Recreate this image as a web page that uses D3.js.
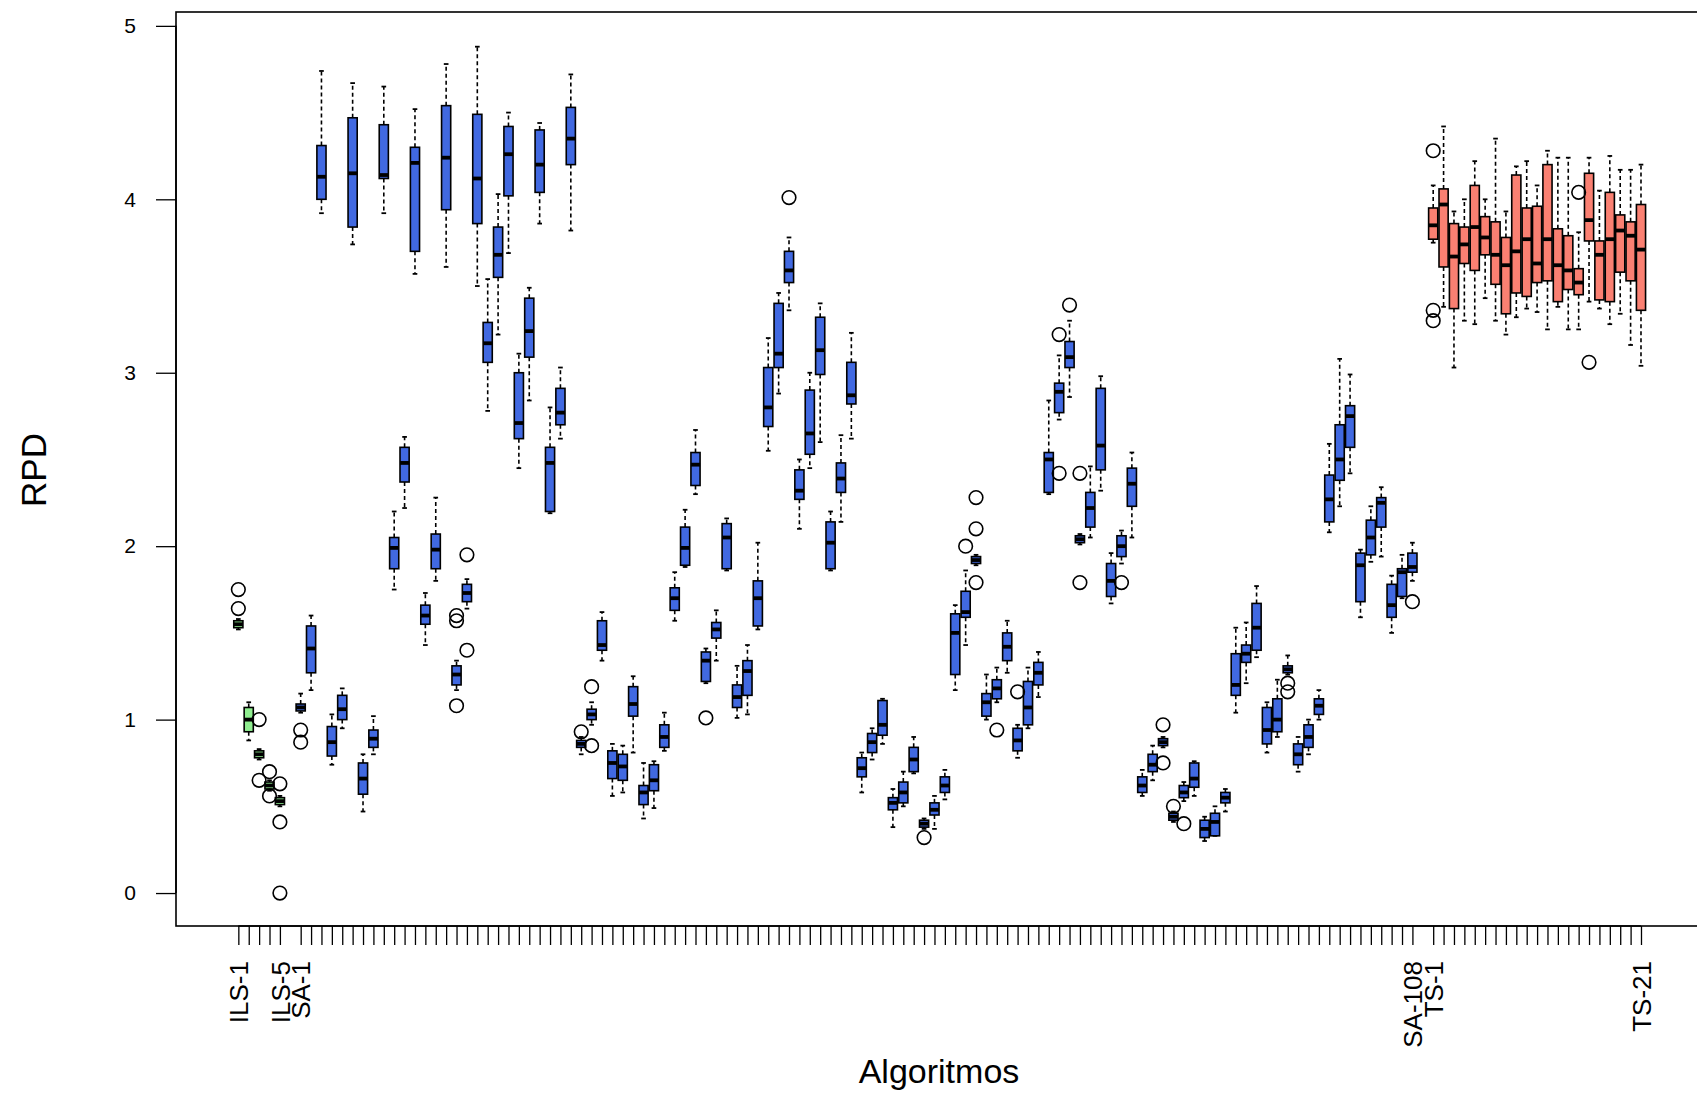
<!DOCTYPE html>
<html><head><meta charset="utf-8">
<script src="https://cdn.jsdelivr.net/npm/d3@7"></script>
<style>body{margin:0;background:#fff} svg{display:block}</style>
</head><body>
<svg id="chart" width="1697" height="1094"></svg>
<script>
// ---- data ----
const grupos = ["ILS", "SA", "TS"];
const tamanosGrupo = [5, 108, 21];
const algoritmos = grupos.flatMap((g, gi) => d3.range(1, tamanosGrupo[gi] + 1).map(i => g + "-" + i));

const bigoteInf = [
  1.52, 0.88, 0.77, 0.59, 0.50,
  1.04, 1.17, 3.92, 0.74, 0.95, 3.74, 0.47, 0.80, 3.92, 1.75,
  2.22, 3.57, 1.43, 1.80, 3.61, 1.17, 1.64, 3.50, 2.78, 3.22,
  3.69, 2.45, 2.84, 3.86, 2.19, 2.62, 3.82, 0.80, 0.97, 1.34,
  0.56, 0.58, 0.81, 0.43, 0.49, 0.82, 1.57, 1.88, 2.30, 1.21,
  1.34, 1.86, 1.01, 1.03, 1.52, 2.55, 2.88, 3.36, 2.10, 2.45,
  2.60, 1.86, 2.14, 2.62, 0.58, 0.77, 0.86, 0.38, 0.50, 0.69,
  0.37, 0.37, 0.54, 1.17, 1.43, 1.89, 1.00, 1.10, 1.27, 0.78,
  0.95, 1.13, 2.30, 2.73, 2.86, 2.01, 2.05, 2.32, 1.67, 1.90,
  2.05, 0.56, 0.65, 0.84, 0.41, 0.53, 0.56, 0.30, 0.33, 0.47,
  1.04, 1.21, 1.36, 0.81, 0.90, 1.26, 0.70, 0.80, 1.00, 2.08,
  2.23, 2.42, 1.59, 1.91, 1.94, 1.50, 1.70, 1.80,
  3.75, 3.38, 3.03, 3.30, 3.28, 3.43, 3.30, 3.22, 3.32, 3.37, 3.35,
  3.25, 3.38, 3.25, 3.25, 3.41, 3.37, 3.28, 3.34, 3.16, 3.04
];
const cuartil1 = [
  1.53, 0.93, 0.78, 0.60, 0.51,
  1.05, 1.27, 4.00, 0.79, 1.00, 3.84, 0.57, 0.84, 4.12, 1.87,
  2.37, 3.70, 1.55, 1.87, 3.94, 1.20, 1.68, 3.86, 3.06, 3.55,
  4.02, 2.62, 3.09, 4.04, 2.20, 2.70, 4.20, 0.84, 1.00, 1.40,
  0.66, 0.65, 1.02, 0.51, 0.59, 0.84, 1.63, 1.89, 2.35, 1.22,
  1.47, 1.87, 1.07, 1.14, 1.54, 2.69, 3.03, 3.52, 2.27, 2.53,
  2.99, 1.87, 2.31, 2.82, 0.67, 0.81, 0.91, 0.48, 0.52, 0.70,
  0.38, 0.45, 0.58, 1.26, 1.59, 1.90, 1.02, 1.12, 1.34, 0.82,
  0.97, 1.20, 2.31, 2.77, 3.03, 2.02, 2.11, 2.44, 1.71, 1.94,
  2.23, 0.58, 0.70, 0.85, 0.42, 0.55, 0.61, 0.32, 0.33, 0.52,
  1.14, 1.33, 1.40, 0.86, 0.93, 1.27, 0.74, 0.84, 1.03, 2.14,
  2.38, 2.57, 1.68, 1.95, 2.11, 1.59, 1.71, 1.85,
  3.77, 3.61, 3.37, 3.63, 3.59, 3.68, 3.51, 3.34, 3.46, 3.44, 3.52,
  3.53, 3.41, 3.48, 3.45, 3.76, 3.42, 3.41, 3.58, 3.53, 3.36
];
const mediana = [
  1.55, 1.00, 0.80, 0.62, 0.53,
  1.07, 1.41, 4.13, 0.87, 1.06, 4.15, 0.66, 0.89, 4.14, 1.99,
  2.48, 4.21, 1.60, 1.98, 4.24, 1.26, 1.73, 4.12, 3.17, 3.68,
  4.26, 2.71, 3.24, 4.20, 2.48, 2.77, 4.35, 0.86, 1.03, 1.43,
  0.75, 0.73, 1.09, 0.58, 0.65, 0.90, 1.70, 1.99, 2.47, 1.34,
  1.52, 2.05, 1.13, 1.28, 1.70, 2.80, 3.11, 3.59, 2.32, 2.65,
  3.13, 2.02, 2.39, 2.87, 0.72, 0.87, 0.97, 0.52, 0.58, 0.77,
  0.40, 0.48, 0.62, 1.50, 1.62, 1.92, 1.10, 1.18, 1.42, 0.88,
  1.07, 1.27, 2.50, 2.89, 3.09, 2.04, 2.22, 2.58, 1.80, 2.00,
  2.36, 0.62, 0.74, 0.87, 0.44, 0.58, 0.66, 0.37, 0.41, 0.55,
  1.20, 1.38, 1.53, 0.94, 1.00, 1.29, 0.80, 0.90, 1.08, 2.27,
  2.50, 2.75, 1.89, 2.05, 2.25, 1.66, 1.85, 1.88,
  3.85, 3.97, 3.67, 3.74, 3.84, 3.78, 3.68, 3.62, 3.70, 3.77, 3.63,
  3.77, 3.62, 3.59, 3.52, 3.88, 3.68, 3.77, 3.82, 3.79, 3.71
];
const cuartil3 = [
  1.57, 1.07, 0.82, 0.64, 0.55,
  1.09, 1.54, 4.31, 0.96, 1.14, 4.47, 0.75, 0.94, 4.43, 2.05,
  2.57, 4.30, 1.66, 2.07, 4.54, 1.31, 1.78, 4.49, 3.29, 3.84,
  4.42, 3.00, 3.43, 4.40, 2.57, 2.91, 4.53, 0.88, 1.06, 1.57,
  0.82, 0.80, 1.19, 0.62, 0.74, 0.97, 1.76, 2.11, 2.54, 1.39,
  1.56, 2.13, 1.20, 1.34, 1.80, 3.03, 3.40, 3.70, 2.44, 2.90,
  3.32, 2.14, 2.48, 3.06, 0.78, 0.92, 1.11, 0.55, 0.64, 0.84,
  0.42, 0.52, 0.67, 1.61, 1.74, 1.94, 1.15, 1.23, 1.50, 0.95,
  1.22, 1.33, 2.54, 2.94, 3.18, 2.06, 2.31, 2.91, 1.90, 2.06,
  2.45, 0.67, 0.80, 0.89, 0.46, 0.62, 0.75, 0.42, 0.46, 0.58,
  1.38, 1.43, 1.67, 1.07, 1.12, 1.31, 0.86, 0.97, 1.12, 2.41,
  2.70, 2.81, 1.96, 2.15, 2.28, 1.78, 1.87, 1.96,
  3.95, 4.06, 3.86, 3.84, 4.08, 3.90, 3.87, 3.78, 4.14, 3.95, 3.96,
  4.20, 3.83, 3.79, 3.60, 4.15, 3.76, 4.04, 3.91, 3.87, 3.97
];
const bigoteSup = [
  1.58, 1.10, 0.83, 0.65, 0.56,
  1.15, 1.60, 4.74, 1.03, 1.18, 4.67, 0.80, 1.02, 4.65, 2.20,
  2.63, 4.52, 1.73, 2.28, 4.78, 1.34, 1.81, 4.88, 3.54, 4.03,
  4.50, 3.11, 3.49, 4.44, 2.80, 3.03, 4.72, 0.90, 1.10, 1.62,
  0.86, 0.85, 1.25, 0.75, 0.76, 1.04, 1.85, 2.21, 2.67, 1.41,
  1.63, 2.16, 1.31, 1.43, 2.02, 3.20, 3.46, 3.78, 2.50, 3.00,
  3.40, 2.20, 2.64, 3.23, 0.81, 0.95, 1.12, 0.60, 0.70, 0.90,
  0.43, 0.56, 0.71, 1.66, 1.86, 1.95, 1.26, 1.30, 1.57, 0.97,
  1.30, 1.39, 2.84, 3.10, 3.30, 2.07, 2.46, 2.98, 1.96, 2.09,
  2.54, 0.71, 0.85, 0.90, 0.47, 0.64, 0.76, 0.44, 0.50, 0.60,
  1.53, 1.56, 1.77, 1.10, 1.23, 1.37, 0.90, 1.00, 1.17, 2.59,
  3.08, 2.99, 1.98, 2.23, 2.34, 1.83, 1.95, 2.02,
  4.08, 4.42, 3.93, 4.00, 4.22, 4.00, 4.35, 3.93, 4.19, 4.22, 4.08,
  4.28, 4.24, 4.24, 3.81, 4.24, 4.05, 4.25, 4.17, 4.17, 4.20
];
const atipicos = [
  ["ILS-1", 1.64], ["ILS-1", 1.75], ["ILS-3", 1.00], ["ILS-3", 0.65],
  ["ILS-4", 0.70], ["ILS-4", 0.56], ["ILS-5", 0.63], ["ILS-5", 0.41], ["ILS-5", 0.00],
  ["SA-1", 0.94], ["SA-1", 0.87], ["SA-16", 1.57], ["SA-16", 1.60], ["SA-16", 1.08],
  ["SA-17", 1.95], ["SA-17", 1.40], ["SA-28", 0.93], ["SA-29", 1.19], ["SA-29", 0.85],
  ["SA-40", 1.01], ["SA-48", 4.01], ["SA-61", 0.32], ["SA-65", 2.00],
  ["SA-66", 2.28], ["SA-66", 2.10], ["SA-66", 1.79], ["SA-68", 0.94], ["SA-70", 1.16],
  ["SA-74", 3.22], ["SA-74", 2.42], ["SA-75", 3.39], ["SA-76", 2.42], ["SA-76", 1.79],
  ["SA-80", 1.79], ["SA-84", 0.97], ["SA-84", 0.75], ["SA-85", 0.50], ["SA-86", 0.40],
  ["SA-96", 1.21], ["SA-96", 1.16], ["SA-108", 1.68],
  ["TS-1", 4.28], ["TS-1", 3.36], ["TS-1", 3.30], ["TS-15", 4.04], ["TS-16", 3.06]
];
const ticksY = [0, 1, 2, 3, 4, 5];
const tituloX = "Algoritmos";
const tituloY = "RPD";

// ---- layout / style ----
const svg = d3.select("#chart");
const relleno = { ILS: "#90ee90", SA: "#4169e1", TS: "#fa8072" };
const fuente = "'Liberation Sans', Arial, Helvetica, sans-serif";

// R-style positions: one empty slot between groups
const grupoDe = algoritmos.map(a => a.split("-")[0]);
const posicion = algoritmos.map((a, i) => i + 1 + grupos.indexOf(grupoDe[i]));

const x = d3.scaleLinear().domain([-5, 142]).range([176, 176 + 147 * 10.39]);
const y = d3.scaleLinear().domain([-0.19, 5.08]).range([926, 12]);
const paso = x(2) - x(1);
const anchoCaja = 0.88 * paso;
const anchoGrapa = 0.45 * paso;

const datos = algoritmos.map((a, i) => ({
  nombre: a, grupo: grupoDe[i], pos: posicion[i],
  lo: bigoteInf[i], q1: cuartil1[i], med: mediana[i], q3: cuartil3[i], hi: bigoteSup[i]
}));

const g = svg.append("g");
datos.forEach(d => {
  const cx = x(d.pos);
  const b = g.append("g");
  b.append("line").attr("x1", cx).attr("x2", cx).attr("y1", y(d.q3)).attr("y2", y(d.hi))
    .attr("stroke", "#000").attr("stroke-width", 1.6).attr("stroke-dasharray", "4,3");
  b.append("line").attr("x1", cx).attr("x2", cx).attr("y1", y(d.q1)).attr("y2", y(d.lo))
    .attr("stroke", "#000").attr("stroke-width", 1.6).attr("stroke-dasharray", "4,3");
  [d.lo, d.hi].forEach(v => b.append("line")
    .attr("x1", cx - anchoGrapa / 2).attr("x2", cx + anchoGrapa / 2)
    .attr("y1", y(v)).attr("y2", y(v)).attr("stroke", "#000").attr("stroke-width", 1.8));
  b.append("rect").attr("x", cx - anchoCaja / 2).attr("width", anchoCaja)
    .attr("y", y(d.q3)).attr("height", Math.max(1, y(d.q1) - y(d.q3)))
    .attr("fill", relleno[d.grupo]).attr("stroke", "#000").attr("stroke-width", 1.6);
  b.append("line").attr("x1", cx - anchoCaja / 2).attr("x2", cx + anchoCaja / 2)
    .attr("y1", y(d.med)).attr("y2", y(d.med)).attr("stroke", "#000").attr("stroke-width", 3.8);
});

g.selectAll("circle.out").data(atipicos).join("circle").attr("class", "out")
  .attr("cx", d => x(posicion[algoritmos.indexOf(d[0])]))
  .attr("cy", d => y(d[1])).attr("r", 6.8)
  .attr("fill", "none").attr("stroke", "#000").attr("stroke-width", 1.6);

// frame
svg.append("rect").attr("x", 176).attr("y", 12).attr("width", x(142) - 176).attr("height", 926 - 12)
  .attr("fill", "none").attr("stroke", "#000").attr("stroke-width", 1.6);

// y axis (R style)
const ay = svg.append("g").attr("transform", "translate(176,0)")
  .call(d3.axisLeft(y).tickValues(ticksY).tickSize(20).tickPadding(20).tickFormat(d3.format("d")));
ay.select(".domain").attr("d", `M0,${y(0)}V${y(5)}`).attr("stroke-width", 1.6);
ay.selectAll("line").attr("stroke-width", 1.3);
ay.selectAll("text").attr("font-family", fuente).attr("font-size", 21).attr("fill", "#000");

// x axis
const etiquetas = algoritmos.map((a, i) => {
  const gi = grupoDe[i];
  const primero = i === 0 || grupoDe[i - 1] !== gi;
  const ultimo = i === algoritmos.length - 1 || grupoDe[i + 1] !== gi;
  return (primero || ultimo) ? a : "";
});
const ax = svg.append("g").attr("transform", "translate(0,926)")
  .call(d3.axisBottom(x).tickValues(posicion).tickSize(19).tickFormat(""));
ax.select(".domain").attr("d", `M${x(posicion[0])},0H${x(posicion[posicion.length - 1])}`).attr("stroke-width", 1.5);
ax.selectAll("line").attr("stroke-width", 1.3);
ax.selectAll(".tick").each(function (p, k) {
  if (!etiquetas[k]) return;
  d3.select(this).append("text")
    .attr("transform", "translate(0,35) rotate(-90)")
    .attr("text-anchor", "end").attr("dy", "0.35em")
    .attr("font-family", fuente).attr("font-size", 26).attr("fill", "#000")
    .text(etiquetas[k]);
});

// titles
svg.append("text").attr("x", 939).attr("y", 1083).attr("text-anchor", "middle")
  .attr("font-family", fuente).attr("font-size", 34).attr("fill", "#000").text(tituloX);
svg.append("text").attr("transform", "translate(46,470) rotate(-90)").attr("text-anchor", "middle")
  .attr("font-family", fuente).attr("font-size", 35).attr("fill", "#000").text(tituloY);
</script>
</body></html>
